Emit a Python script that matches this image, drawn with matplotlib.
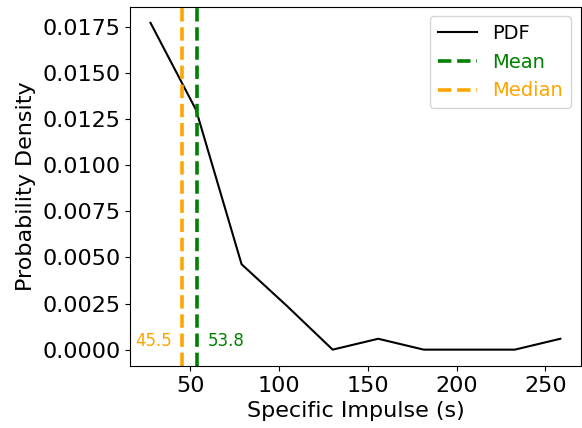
import matplotlib
matplotlib.use("Agg")
import matplotlib.pyplot as plt

bin_centers = [27.6, 53.25, 78.9, 104.55, 130.2, 155.85, 181.5, 207.15, 232.8, 258.45]
pdf_values = [0.01772, 0.0130, 0.00463, 0.00236, 0.0, 0.00059, 0.0, 0.0, 0.0, 0.00059]
mean_value = 53.8
median_value = 45.5

fig = plt.figure(figsize=(5.82, 4.28), dpi=100)
ax = fig.add_axes([0.2234, 0.1449, 0.7746, 0.8399])

ax.plot(bin_centers, pdf_values, color="black", lw=1.5, label="PDF")
ax.axvline(mean_value, color="green", ls="--", lw=2.6, label="Mean")
ax.axvline(median_value, color="orange", ls="--", lw=2.6, label="Median")

ax.annotate(f"{mean_value:.1f}", (mean_value, 0), xytext=(7.5, 0), textcoords="offset points",
            color="green", fontsize=12, ha="left", va="bottom")
ax.annotate(f"{median_value:.1f}", (median_value, 0), xytext=(-7.5, 0), textcoords="offset points",
            color="orange", fontsize=12, ha="right", va="bottom")

ax.set_xlabel("Specific Impulse (s)", fontsize=16)
ax.set_ylabel("Probability Density", fontsize=16)
ax.tick_params(labelsize=16)
ax.set_xticks([50, 100, 150, 200, 250])
ax.set_yticks([0, 0.0025, 0.005, 0.0075, 0.01, 0.0125, 0.015, 0.0175])

leg = ax.legend(loc="upper right", fontsize=14)
for txt, ln in zip(leg.get_texts(), leg.get_lines()):
    txt.set_color(ln.get_color())

fig.savefig("out.png", dpi=100)
